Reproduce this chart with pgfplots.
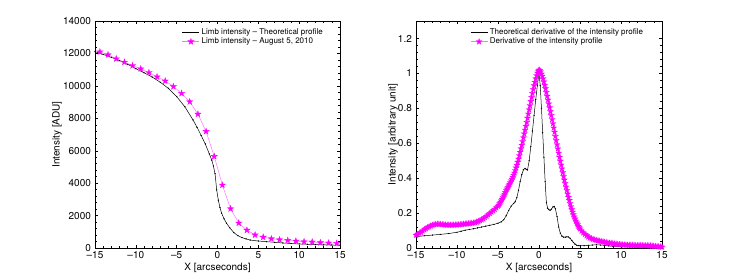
\documentclass[border=0pt]{standalone}
\usepackage{pgfplots}
\pgfplotsset{compat=1.18}
\usepackage{fontspec}
\setmainfont{TeX Gyre Heros}
\definecolor{mag}{rgb}{1,0,1}
\definecolor{magline}{rgb}{1,0.45,1}
\pgfdeclareplotmark{pentagram}{%
  \pgfpathmoveto{\pgfpointpolar{90}{\pgfplotmarksize}}%
  \pgfpathlineto{\pgfpointpolar{126}{0.382\pgfplotmarksize}}%
  \pgfpathlineto{\pgfpointpolar{162}{\pgfplotmarksize}}%
  \pgfpathlineto{\pgfpointpolar{198}{0.382\pgfplotmarksize}}%
  \pgfpathlineto{\pgfpointpolar{234}{\pgfplotmarksize}}%
  \pgfpathlineto{\pgfpointpolar{270}{0.382\pgfplotmarksize}}%
  \pgfpathlineto{\pgfpointpolar{306}{\pgfplotmarksize}}%
  \pgfpathlineto{\pgfpointpolar{342}{0.382\pgfplotmarksize}}%
  \pgfpathlineto{\pgfpointpolar{18}{\pgfplotmarksize}}%
  \pgfpathlineto{\pgfpointpolar{54}{0.382\pgfplotmarksize}}%
  \pgfpathclose
  \pgfusepathqfillstroke
}
\pgfplotsset{
  mlab/.style={
    scale only axis,
    anchor=south west,
    xmin=-15, xmax=15,
    xtick={-15,-10,-5,0,5,10,15},
    xticklabels={\textendash15,\textendash10,\textendash5,0,5,10,15},
    minor x tick num=4, minor y tick num=4,
    tick align=inside,
    major tick length=3bp, minor tick length=1.8bp,
    every tick/.style={black, line width=0.4bp},
    axis line style={line width=0.5bp},
    tick label style={font=\fontsize{10bp}{12bp}\selectfont},
    xticklabel style={yshift=-1.6bp, inner ysep=1.5bp},
    yticklabel style={xshift=-0.6bp, inner ysep=1bp},
    label style={font=\fontsize{10bp}{12bp}\selectfont},
    /pgf/number format/assume math mode=true,
    /pgf/number format/1000 sep={},
    scaled y ticks=false,
    xlabel={X [arcseconds]},
    xlabel style={at={(axis description cs:0.5,-0.086)}, anchor=center},
    legend cell align=left,
    legend style={draw=none, fill=none, anchor=north west,
      font=\fontsize{8bp}{9.6bp}\selectfont, row sep=-2.2bp, inner sep=0pt},
  },
}
\begin{document}
\begin{tikzpicture}
\path[use as bounding box] (0,0) rectangle (731bp,280bp);
\begin{axis}[mlab,
  at={(95bp,32bp)}, width=245bp, height=227bp,
  ymin=0, ymax=14000, ytick={0,2000,...,14000},
  ylabel={Intensity [ADU]},
  ylabel style={at={(axis description cs:-0.155,0.5)}, anchor=center},
  legend style={at={(axis description cs:0.355,0.975)}},
]
\addplot[black, line width=0.5bp, mark=*, mark size=0.35bp] coordinates {
(-15,12110)(-14,11940)(-13,11760)(-12,11560)(-11,11330)(-10,11060)(-9,10810)
(-8,10545)(-7,10220)(-6,9840)(-5,9340)(-4,8710)(-3,7900)(-2.5,7440)(-2,6940)
(-1.5,6420)(-1,5800)(-0.7,5420)(-0.5,5060)(-0.3,4580)(-0.1,3580)
(0.1,2950)(0.3,2500)(0.5,2150)(0.8,1800)(1.1,1530)(1.5,1250)(2.0,950)(2.5,760)
(3,640)(3.5,560)(4,490)(5,430)(6,390)(7,350)(8,310)(9,280)(10,250)(11,230)
(12,210)(13,195)(14,185)(15,175)};
\addlegendentry{Limb intensity \textendash{} Theoretical profile}
\addplot[magline, line width=0.5bp, mark=pentagram, mark size=3.3bp,
  mark options={fill=mag, draw=mag, line width=0.3bp}] coordinates {
(-14.4,12100)(-13.4,11920)(-12.4,11670)(-11.4,11460)(-10.4,11250)(-9.4,11050)
(-8.4,10820)(-7.4,10560)(-6.4,10300)(-5.4,9960)(-4.4,9540)(-3.4,9020)
(-2.4,8260)(-1.4,7190)(-0.4,5650)(0.6,3880)(1.6,2420)(2.6,1540)(3.6,1100)
(4.6,810)(5.6,670)(6.6,570)(7.6,510)(8.6,470)(9.6,430)(10.6,390)(11.6,370)
(12.6,330)(13.6,310)(14.6,290)};
\addlegendentry{Limb intensity \textendash{} August 5, 2010}
\end{axis}
\begin{axis}[mlab,
  at={(416bp,32bp)}, width=246bp, height=227bp,
  ymin=0, ymax=1.3, ytick={0,0.2,...,1.2},
  ylabel={Intensity [arbitrary unit]},
  ylabel style={at={(axis description cs:-0.0935,0.5)}, anchor=center},
  legend style={at={(axis description cs:0.22,0.975)}},
]
\addplot[black, line width=0.5bp, mark=*, mark size=0.35bp] coordinates {
(-15,0.065)(-14,0.070)(-13,0.074)(-12,0.078)(-11,0.083)(-10,0.090)(-9.5,0.096)
(-9,0.102)(-8.5,0.106)(-8,0.110)(-7.5,0.115)(-7,0.120)(-6.5,0.125)(-6,0.130)
(-5.5,0.135)(-5,0.142)(-4.6,0.150)(-4.3,0.162)(-4.0,0.185)(-3.7,0.215)
(-3.4,0.240)(-3.1,0.255)(-2.9,0.265)(-2.7,0.29)(-2.5,0.33)(-2.3,0.38)(-2.1,0.42)
(-1.9,0.448)(-1.7,0.456)(-1.55,0.450)(-1.4,0.447)(-1.2,0.50)(-1.0,0.58)
(-0.8,0.67)(-0.6,0.76)(-0.4,0.85)(-0.2,0.93)(0.0,1.0)(0.15,0.93)(0.3,0.80)
(0.45,0.66)(0.6,0.52)(0.75,0.38)(0.9,0.26)(1.05,0.228)(1.2,0.220)(1.35,0.216)
(1.5,0.222)(1.7,0.235)(1.85,0.238)(2.0,0.225)(2.2,0.18)(2.4,0.12)(2.6,0.085)
(2.8,0.068)(3.0,0.062)(3.2,0.062)(3.4,0.064)(3.6,0.063)(3.8,0.055)(4.0,0.043)
(4.2,0.032)(4.4,0.022)(4.6,0.016)(4.8,0.014)(5.0,0.013)(5.5,0.013)(6,0.015)
(6.5,0.017)(7,0.018)(7.5,0.017)(8,0.015)(8.5,0.012)(9,0.010)(10,0.008)
(11,0.006)(12,0.005)(13,0.004)(14,0.003)(15,0.003)};
\addlegendentry{Theoretical derivative of the intensity profile}
\addplot[magline, line width=0.5bp, mark=pentagram, mark size=3.1bp,
  mark options={fill=mag, draw=mag, line width=0.3bp}] coordinates {
(-15.0,0.074)(-14.8,0.079)(-14.6,0.085)(-14.4,0.091)(-14.2,0.098)(-14.0,0.105)
(-13.8,0.111)(-13.6,0.117)(-13.4,0.122)(-13.2,0.127)(-13.0,0.131)(-12.8,0.134)
(-12.6,0.136)(-12.4,0.137)(-12.2,0.137)(-12.0,0.136)(-11.8,0.135)(-11.6,0.134)
(-11.4,0.133)(-11.2,0.132)(-11.0,0.132)(-10.8,0.132)(-10.6,0.132)(-10.4,0.132)
(-10.2,0.133)(-10.0,0.133)(-9.8,0.134)(-9.6,0.135)(-9.4,0.136)(-9.2,0.137)
(-9.0,0.138)(-8.8,0.139)(-8.6,0.140)(-8.4,0.141)(-8.2,0.142)(-8.0,0.144)
(-7.8,0.146)(-7.6,0.149)(-7.4,0.153)(-7.2,0.157)(-7.0,0.162)(-6.8,0.168)
(-6.6,0.175)(-6.4,0.182)(-6.2,0.190)(-6.0,0.198)(-5.8,0.206)(-5.6,0.214)
(-5.4,0.222)(-5.2,0.231)
(-5.0,0.240)(-4.9,0.247)(-4.8,0.255)(-4.7,0.263)(-4.6,0.271)(-4.5,0.280)
(-4.4,0.289)(-4.3,0.299)(-4.2,0.309)(-4.1,0.319)(-4.0,0.330)(-3.9,0.339)
(-3.8,0.348)(-3.7,0.357)(-3.6,0.366)(-3.5,0.375)(-3.4,0.385)(-3.3,0.395)
(-3.2,0.406)(-3.1,0.418)(-3.0,0.430)(-2.9,0.444)(-2.8,0.459)(-2.7,0.475)
(-2.6,0.492)(-2.5,0.510)(-2.4,0.529)(-2.3,0.549)(-2.2,0.569)(-2.1,0.589)
(-2.0,0.610)(-1.9,0.632)(-1.8,0.654)(-1.7,0.676)(-1.6,0.698)(-1.5,0.720)
(-1.4,0.744)(-1.3,0.768)(-1.2,0.792)(-1.1,0.816)(-1.0,0.840)(-0.9,0.863)
(-0.8,0.886)(-0.7,0.909)(-0.6,0.930)(-0.5,0.950)(-0.4,0.970)(-0.3,0.988)
(-0.2,1.003)(-0.1,1.014)(0.0,1.020)(0.1,1.018)(0.2,1.010)(0.3,0.997)
(0.4,0.985)(0.5,0.970)(0.6,0.952)(0.7,0.933)(0.8,0.913)(0.9,0.892)
(1.0,0.870)(1.1,0.848)(1.2,0.826)(1.3,0.804)(1.4,0.782)(1.5,0.760)
(1.6,0.736)(1.7,0.712)(1.8,0.688)(1.9,0.664)(2.0,0.640)(2.1,0.616)
(2.2,0.592)(2.3,0.568)(2.4,0.544)(2.5,0.520)(2.6,0.498)(2.7,0.476)
(2.8,0.454)(2.9,0.432)(3.0,0.410)(3.1,0.390)(3.2,0.370)(3.3,0.350)
(3.4,0.330)(3.5,0.310)(3.6,0.291)(3.7,0.273)(3.8,0.255)(3.9,0.237)
(4.0,0.220)(4.1,0.206)(4.2,0.192)(4.3,0.179)(4.4,0.167)(4.5,0.155)
(4.6,0.144)(4.7,0.134)(4.8,0.125)(4.9,0.117)(5.0,0.110)
(5.2,0.098)(5.4,0.088)(5.6,0.079)(5.8,0.071)(6.0,0.064)(6.2,0.058)
(6.4,0.054)(6.6,0.050)(6.8,0.047)(7.0,0.044)(7.2,0.042)(7.4,0.040)
(7.6,0.038)(7.8,0.036)(8.0,0.034)(8.2,0.032)(8.4,0.030)(8.6,0.029)
(8.8,0.027)(9.0,0.026)(9.2,0.024)(9.4,0.023)(9.6,0.022)(9.8,0.021)
(10.0,0.020)(10.2,0.019)(10.4,0.018)(10.6,0.018)(10.8,0.017)(11.0,0.017)
(11.2,0.016)(11.4,0.016)(11.6,0.016)(11.8,0.015)(12.0,0.015)(12.2,0.015)
(12.4,0.015)(12.6,0.015)(12.8,0.014)(13.0,0.014)(13.2,0.014)(13.4,0.013)
(13.6,0.013)(13.8,0.012)(14.0,0.011)(14.2,0.010)(14.4,0.009)(14.6,0.008)
(14.8,0.007)(15.0,0.006)};
\addlegendentry{Derivative of the intensity profile}
\end{axis}
\end{tikzpicture}
\end{document}
